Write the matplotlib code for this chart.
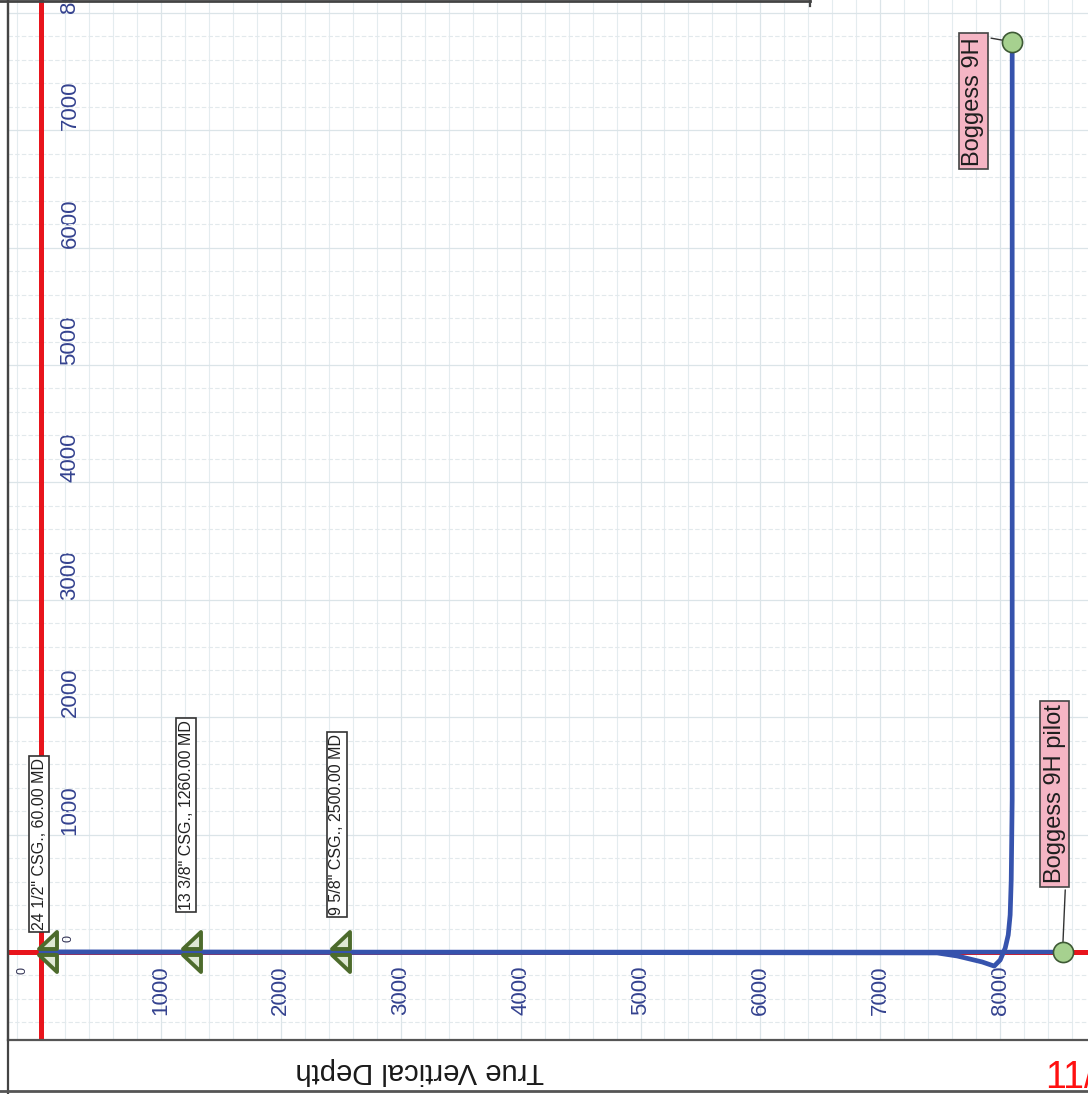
import matplotlib
matplotlib.use('Agg')
import matplotlib.pyplot as plt
from matplotlib.lines import Line2D
from matplotlib.path import Path

plt.rcParams['font.family'] = ['Liberation Sans', 'DejaVu Sans']

# Boggess 9H wellbore (TVD, vertical section), ft
well_tvd = [0, 7475, 7642, 7850, 7950, 8000, 8042, 8067, 8083, 8092, 8100, 8100]
well_vs = [0, -8, -34, -85, -120, -68, 34, 145, 316, 615, 1300, 7752]

# Boggess 9H pilot hole (vertical)
pilot_tvd = [0, 8520]
pilot_vs = [0, 0]

# casing points
casing_md = [60, 1260, 2500]
casing_labels = ['24 1/2" CSG., 60.00 MD', '13 3/8" CSG., 1260.00 MD',
                 '9 5/8" CSG., 2500.00 MD']

tvd_ticks = [1000, 2000, 3000, 4000, 5000, 6000, 7000, 8000]
vs_ticks = [1000, 2000, 3000, 4000, 5000, 6000, 7000, 8000]

W, H = 1088, 1094
fig = plt.figure(figsize=(W / 100, H / 100), dpi=100)

# axes frame in pixel terms (extends past the right/top edges of the scan)
left_px, right_px, top_px, bottom_px = 8, 1100, -40, 1040
ax = fig.add_axes([left_px / W, (H - bottom_px) / H,
                   (right_px - left_px) / W, (bottom_px - top_px) / H])

x0_px, x_scale = 41, 0.1199   # px of TVD 0, px per ft
y0_px, y_scale = 952, 0.1174  # px of VS 0, px per ft
ax.set_xlim((left_px - x0_px) / x_scale, (right_px - x0_px) / x_scale)
ax.set_ylim((y0_px - bottom_px) / y_scale, (y0_px - top_px) / y_scale)

# grid
ax.set_xticks(range(-200, 8801, 200), minor=True)
ax.set_yticks(range(-600, 8401, 200), minor=True)
ax.grid(which='minor', axis='x', color='#e4ecef', lw=0.8, ls='-')
ax.grid(which='minor', axis='y', color='#e2e9ec', lw=0.8, ls=(0, (4, 2)))
ax.grid(which='major', axis='both', color='#dbe4e8', lw=0.9)
ax.set_axisbelow(True)

# red reference lines
ax.axvline(0, color='#e8141c', lw=3.6, zorder=2)
ax.axhline(0, color='#e8141c', lw=3.6, zorder=2)

# wells
ax.plot(pilot_tvd, pilot_vs, color='#3653ad', lw=3.2, zorder=3,
        solid_capstyle='round')
ax.plot(well_tvd, well_vs, color='#3653ad', lw=3.4, zorder=3,
        solid_capstyle='round', solid_joinstyle='round')

# casing shoe symbols
shoe_up = Path([(-0.45, 0.14), (0.45, 0.14), (0.45, 1.0), (-0.45, 0.14)],
               [Path.MOVETO, Path.LINETO, Path.LINETO, Path.CLOSEPOLY])
shoe_dn = Path([(-0.45, -0.14), (0.45, -0.14), (0.45, -1.0), (-0.45, -0.14)],
               [Path.MOVETO, Path.LINETO, Path.LINETO, Path.CLOSEPOLY])
for md in casing_md:
    for mk in (shoe_up, shoe_dn):
        ax.plot([md], [0], marker=mk, ms=29, mfc='#dfe8d4', mec='#4d6b2c',
                mew=2.8, zorder=4)

label_offsets = [(-9, 22), (-6, 42), (-4, 37)]
for md, txt, (dx, dy) in zip(casing_md, casing_labels, label_offsets):
    ax.annotate(txt, xy=(md, 0), xytext=(dx, dy), textcoords='offset pixels',
                rotation=90, ha='center', va='bottom', fontsize=11.5,
                color='#222222', zorder=6,
                bbox=dict(boxstyle='square,pad=0.15', fc='white',
                          ec='#333333', lw=1.2))

# well end points + name boxes
ax.plot([well_tvd[-1]], [well_vs[-1]], 'o', ms=14.5, mfc='#a6d18f',
        mec='#3e5a35', mew=1.2, zorder=7)
ax.plot([pilot_tvd[-1]], [pilot_vs[-1]], 'o', ms=14.5, mfc='#a6d18f',
        mec='#3e5a35', mew=1.2, zorder=7)

ax.annotate('Boggess 9H', xy=(well_tvd[-1], well_vs[-1]), xytext=(-39, 5),
            textcoords='offset pixels', rotation=90, ha='center', va='top',
            fontsize=17, color='#1e1e1e', zorder=6,
            bbox=dict(boxstyle='square,pad=0.15', fc='#f5b5c4', ec='#444444',
                      lw=1.2),
            arrowprops=dict(arrowstyle='-', color='#333333', lw=1.0,
                            relpos=(1, 1), shrinkB=7))
ax.annotate('Boggess 9H pilot', xy=(pilot_tvd[-1], pilot_vs[-1]),
            xytext=(-8, 69), textcoords='offset pixels', rotation=90,
            ha='center', va='bottom', fontsize=17, color='#1e1e1e', zorder=6,
            bbox=dict(boxstyle='square,pad=0.15', fc='#f5b5c4', ec='#444444',
                      lw=1.2),
            arrowprops=dict(arrowstyle='-', color='#333333', lw=1.0,
                            relpos=(1, 0), shrinkB=7))

# ticks (labels sit inside the frame, rotated)
ax.set_xticks(tvd_ticks)
ax.set_yticks(vs_ticks)
ax.tick_params(axis='both', which='both', length=0)
ax.tick_params(axis='x', pad=-36)
ax.tick_params(axis='y', pad=-44.6)
for lab in ax.get_xticklabels():
    lab.set_rotation(90)
    lab.set_va('center')
    lab.set_ha('center')
    lab.set_fontsize(16)
    lab.set_color('#34428f')
for lab in ax.get_yticklabels():
    lab.set_rotation(90)
    lab.set_va('bottom')
    lab.set_ha('center')
    lab.set_fontsize(16)
    lab.set_color('#34428f')

# small origin labels
ax.annotate('0', xy=(0, 0), xytext=(-19, -18), textcoords='offset pixels',
            rotation=90, ha='center', va='center', fontsize=9, color='#333355')
ax.annotate('0', xy=(0, 0), xytext=(27, 14), textcoords='offset pixels',
            rotation=90, ha='center', va='center', fontsize=9, color='#333355')

for side in ('top', 'right'):
    ax.spines[side].set_visible(False)
for side in ('left', 'bottom'):
    ax.spines[side].set_color('#555555')
    ax.spines[side].set_linewidth(1.6)

ax.set_xlabel('True Vertical Depth', fontsize=21, color='#1a1a1a',
              rotation=180, va='center', ha='center')
ax.xaxis.set_label_coords((420 - left_px) / (right_px - left_px),
                          (bottom_px - 1071) / (bottom_px - top_px))

# page frame pieces from the scan
fig.add_artist(Line2D([left_px / W, left_px / W], [0, 1], color='#444444',
                      lw=1.6))
fig.add_artist(Line2D([0, 1], [1 - 1091 / H, 1 - 1091 / H], color='#555555',
                      lw=2.0))
fig.add_artist(Line2D([0, 810 / W], [1 - 1 / H, 1 - 1 / H], color='#444444',
                      lw=2.0))
fig.add_artist(Line2D([810 / W, 810 / W], [1 - 6 / H, 1], color='#444444',
                      lw=1.6))

fig.text(1045 / W, 1 - 1088 / H, '11/', color='#ff1010', fontsize=27,
         ha='left', va='baseline')

fig.savefig('out.png', dpi=100)
